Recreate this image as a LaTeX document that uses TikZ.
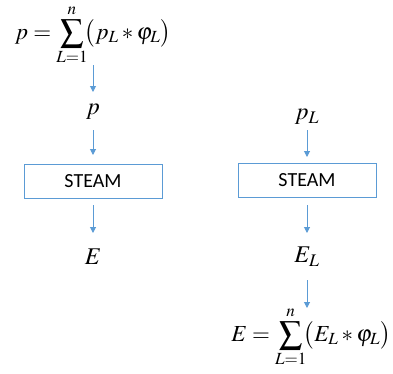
\documentclass[tikz,border=0pt]{standalone}
\usepackage{fontspec}
\usepackage{mathptmx}
\newfontfamily\boxfont{Carlito}
\usetikzlibrary{arrows.meta}
\definecolor{lineblue}{RGB}{91,155,213}
\tikzset{
  arr/.style={draw=lineblue, line width=1pt, -{Triangle[width=6pt,length=6pt]}},
  stepbox/.style={draw=lineblue, line width=1pt, minimum width=138pt, minimum height=34pt, inner sep=0pt, font=\boxfont\fontsize{20}{24}\selectfont},
  mth/.style={inner sep=0pt, font=\fontsize{24}{28}\selectfont},
  fml/.style={inner sep=0pt, font=\fontsize{23}{27}\selectfont}
}
\begin{document}
\begin{tikzpicture}[x=1pt,y=-1pt]
\useasboundingbox (0,0) rectangle (393,373);
\node[fml] (f1) at (93,35) {$\displaystyle p=\sum_{L=1}^{n}\!\bigl(p_L * \varphi_L\bigr)$};
\node[mth] (p) at (93,112) {$p$};
\node[stepbox] (b1) at (93,181) {STEAM};
\node[mth] (E) at (93,257) {$E$};
\node[mth] (pL) at (307,117) {$p_L$};
\node[stepbox] (b2) at (307,180) {STEAM};
\node[mth] (EL) at (307,257) {$E_L$};
\node[fml] (f2) at (311,337) {$\displaystyle E=\sum_{L=1}^{n}\!\bigl(E_L * \varphi_L\bigr)$};
\draw[arr, shorten <=30pt, shorten >=20pt] (f1.center -| p.center) -- (p.center);
\draw[arr, shorten <=18pt, shorten >=26pt] (p.center) -- (b1.center);
\draw[arr, shorten <=24pt, shorten >=24pt] (b1.center) -- (E.center);
\draw[arr, shorten <=13pt, shorten >=23pt] (pL.center) -- (b2.center);
\draw[arr, shorten <=25pt, shorten >=24pt] (b2.center) -- (EL.center);
\draw[arr, shorten <=23pt, shorten >=29pt] (EL.center) -- (EL.center |- f2.center);
\end{tikzpicture}
\end{document}
